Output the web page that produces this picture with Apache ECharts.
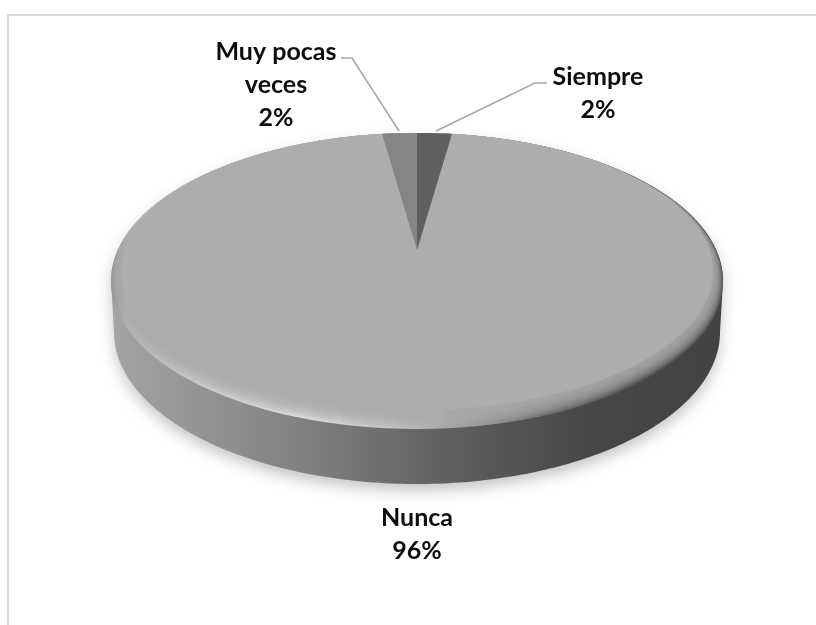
<!DOCTYPE html>
<html>
<head>
<meta charset="utf-8">
<style>html,body{margin:0;padding:0;background:#fff}#c{width:816px;height:625px}</style>
<script src="https://cdn.jsdelivr.net/npm/echarts@6/dist/echarts.min.js"></script>
</head>
<body>
<div id="c"></div>
<script>
const categories = ['Siempre', 'Nunca', 'Muy pocas veces'];
const labelTexts = ['Siempre', 'Nunca', 'Muy pocas\nveces'];
const values = [2.2, 95.6, 2.2];
const colors = ['#5f5f5f', '#adadad', '#858585'];

const total = values.reduce((a, b) => a + b, 0);
const FONT = 'bold 25px Lato, "Open Sans", sans-serif';

// Disc geometry
const outer = {cx: 417, cy: 281, rx: 306, ry: 148};
const inner = {cx: 417, cy: 271.5, rx: 296, ry: 138.5};
const bottom = {cx: 417, cy: 332, rx: 303, ry: 152};
const apexY = 250;
const a = (apexY - inner.cy) / inner.ry;

// perspective map of the unit disc on to the face ellipse
function project(r, theta) {
  const u = r * Math.sin(theta), v = -r * Math.cos(theta);
  const d = 1 + a * v;
  return [
    inner.cx + inner.rx * u * Math.sqrt(1 - a * a) / d,
    inner.cy + inner.ry * (v + a) / d
  ];
}
function sectorPoints(from, to) {
  const pts = [project(0, 0)];
  const n = Math.max(2, Math.ceil((to - from) / 0.01));
  for (let i = 0; i <= n; i++) pts.push(project(1, from + (to - from) * i / n));
  return pts;
}
function sidePoints() {
  const pts = [];
  for (let i = 0; i <= 180; i++) {
    const t = Math.PI * i / 180;
    pts.push([outer.cx - outer.rx * Math.cos(t), outer.cy - outer.ry * Math.sin(t)]);
  }
  for (let i = 0; i <= 180; i++) {
    const t = Math.PI * i / 180;
    pts.push([bottom.cx + bottom.rx * Math.cos(t), bottom.cy + bottom.ry * Math.sin(t)]);
  }
  return pts;
}
const hGrad = stops => ({type: 'linear', x: 0, y: 0, x2: 1, y2: 0,
  colorStops: stops.map(s => ({offset: s[0], color: s[1]}))});

const labelPlaces = [
  {x: 598, y: 93, leader: [[547, 83], [535, 83], [436, 131]]},
  {x: 417, y: 534, leader: null},
  {x: 276, y: 85, leader: [[341, 58], [352, 58], [399, 131]]}
];

function renderItem(params, api) {
  const i = params.dataIndex;
  const v = api.value(0);
  let before = 0;
  for (let k = 0; k < i; k++) before += values[k];
  const from = before / total * 2 * Math.PI;
  const to = (before + v) / total * 2 * Math.PI;
  const children = [];

  if (i === 1) {
    children.push({
      type: 'polygon', z2: 1,
      shape: {points: sidePoints()},
      style: {
        fill: hGrad([[0, '#a4a4a4'], [0.2, '#8e8e8e'], [0.35, '#7c7c7c'], [0.5, '#666666'],
                     [0.65, '#545454'], [0.8, '#464646'], [1, '#424242']]),
        shadowBlur: 14, shadowColor: 'rgba(0,0,0,0.22)', shadowOffsetY: 7
      }
    });
    children.push({
      type: 'ellipse', z2: 2,
      shape: {cx: outer.cx, cy: outer.cy, rx: outer.rx, ry: outer.ry},
      style: {
        fill: hGrad([[0, '#959595'], [0.03, '#b4b4b4'], [0.15, '#cccccc'], [0.32, '#dcdcdc'],
                     [0.45, '#c4c4c4'], [0.58, '#a0a0a0'], [0.72, '#6e6e6e'], [0.88, '#4c4c4c'], [1, '#5a5a5a']])
      }
    });
    const steps = 12;
    for (let s = 1; s <= steps; s++) {
      const t = s / (steps + 1);
      const rx = outer.rx + (inner.rx - outer.rx) * t;
      const cy = outer.cy + (inner.cy - outer.cy) * t;
      const ry = outer.ry + (inner.ry - outer.ry) * t;
      children.push({
        type: 'ellipse', z2: 3 + s,
        shape: {cx: inner.cx, cy: cy, rx: rx, ry: ry},
        style: {fill: colors[1], opacity: 0.18}
      });
    }
  }
  children.push({
    type: 'polygon', z2: i === 1 ? 20 : 21,
    shape: {points: sectorPoints(from, to)},
    style: {fill: colors[i]}
  });
  const place = labelPlaces[i];
  if (place.leader) {
    children.push({
      type: 'polyline', z2: 22,
      shape: {points: place.leader},
      style: {stroke: '#a6a6a6', lineWidth: 1.5, fill: null}
    });
  }
  children.push({
    type: 'text', z2: 23,
    style: {
      text: labelTexts[i] + '\n' + Math.round(v / total * 100) + '%',
      x: place.x, y: place.y,
      align: 'center', verticalAlign: 'middle',
      font: FONT, lineHeight: 33, fill: '#0d0d0d'
    }
  });
  return {type: 'group', children};
}

const chart = echarts.init(document.getElementById('c'), null, {renderer: 'canvas'});
chart.setOption({
  animation: false,
  backgroundColor: '#ffffff',
  graphic: [{
    type: 'polyline', silent: true,
    shape: {points: [[8, 625], [8, 15], [816, 15]]},
    style: {stroke: '#d9d9d9', lineWidth: 2, fill: null}
  }],
  series: [{
    type: 'custom',
    coordinateSystem: 'none',
    silent: true,
    renderItem,
    data: values.map((v, i) => ({name: categories[i], value: [v]}))
  }]
});
</script>
</body>
</html>
